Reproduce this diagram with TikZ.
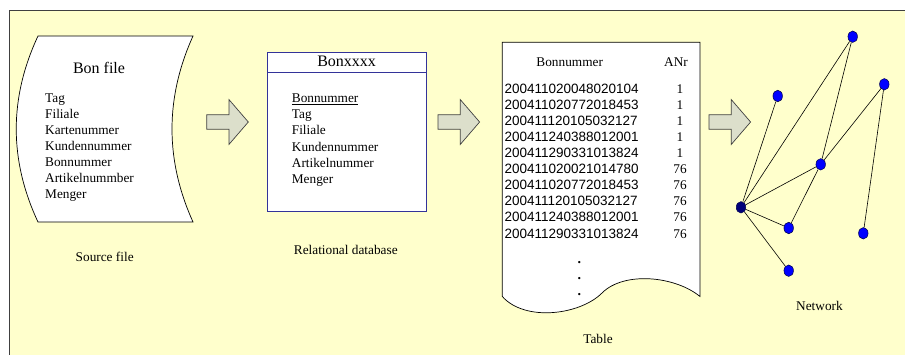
\documentclass[tikz,border=0pt]{standalone}
\usepackage{fontspec}
\setmainfont{Liberation Serif}
\newfontfamily\numfont{Liberation Sans}
\usetikzlibrary{shapes.geometric}
\definecolor{panelbg}{HTML}{FFFFCC}
\definecolor{framegray}{HTML}{404040}
\definecolor{arrowfill}{HTML}{DCDFCB}
\definecolor{dbblue}{HTML}{333399}
\definecolor{nodeblue}{HTML}{0000FF}
\definecolor{hubblue}{HTML}{00007A}
\begin{document}
\begin{tikzpicture}[x=1pt,y=-1pt,
  txt/.style={inner sep=0pt, anchor=base west, font=\fontsize{13.3}{16}\selectfont},
  ctxt/.style={inner sep=0pt, anchor=base, font=\fontsize{13.3}{16}\selectfont},
  titletxt/.style={inner sep=0pt, anchor=base, font=\fontsize{16}{19}\selectfont},
  numtxt/.style={inner sep=0pt, anchor=base west, font=\numfont\fontsize{13.5}{16}\selectfont},
  dottxt/.style={inner sep=0pt, anchor=base, font=\bfseries\fontsize{14}{16}\selectfont},
  blockarrow/.style={draw=framegray, fill=arrowfill, line width=0.7pt, line join=miter},
  vertex/.style={ellipse, draw=black!70!blue, fill=nodeblue, minimum width=9.5pt, minimum height=11.5pt, inner sep=0pt, line width=0.5pt},
  hub/.style={vertex, fill=hubblue},
  link/.style={draw=black, line width=0.6pt},
]
\useasboundingbox (0,0) rectangle (905,354);
\fill[white] (0,0) rectangle (905,354);
% yellow panel with its frame
\draw[fill=panelbg, draw=framegray, line width=1pt] (9,10) rectangle (920,370);

% ---- source file (punched-tape shape) ----
\draw[fill=white, line width=0.7pt] (38,36) -- (193,36)
  .. controls (165,98) and (165,160) .. (193,222) -- (38,222)
  .. controls (9,160) and (9,98) .. cycle;
\node[titletxt] (srctitle) at (99,73.5) {Bon file};
\foreach \t [count=\i from 0] in {Tag,Filiale,Kartenummer,Kundennummer,Bonnummer,Artikelnummber,Menger}
  \node[txt] (src\i) at (45,102.8+16*\i) {\t};
\node[ctxt] (srclabel) at (104.7,261) {Source file};

% ---- relational table ----
\draw[dbblue, line width=1pt, fill=white] (267.3,52.3) rectangle (426,211.7);
\draw[dbblue, line width=1pt] (267.3,72.3) -- (426,72.3);
\node[titletxt] (dbtitle) at (346.6,66.5) {Bonxxxx};
\node[txt] (db0) at (291.7,102.5) {\underline{Bonnummer}};
\foreach \t [count=\i from 1] in {Tag,Filiale,Kundennummer,Artikelnummer,Menger}
  \node[txt] (db\i) at (291.7,102.5+16.2*\i) {\t};
\node[ctxt] (dblabel) at (345.8,254.5) {Relational database};

% ---- printed table (document shape) ----
\draw[fill=white, line width=0.7pt] (502.3,296.5) -- (502.3,42.3) -- (700,42.3) -- (700,296.5)
  .. controls (675,276) and (624,271) .. (602,293)
  .. controls (580,315) and (525,322) .. cycle;
\node[ctxt] (colbon) at (569.7,66) {Bonnummer};
\node[ctxt] (colanr) at (676,66) {ANr};
\foreach \n/\a [count=\i from 0] in {
  200411020048020104/1, 200411020772018453/1, 200411120105032127/1,
  200411240388012001/1, 200411290331013824/1, 200411020021014780/76,
  200411020772018453/76, 200411120105032127/76, 200411240388012001/76,
  200411290331013824/76} {
  \node[numtxt] (bon\i) at (504.3,93.1+16.1*\i) {\n};
  \node[ctxt] (anr\i) at (680,93.1+16.1*\i) {\a};
}
\foreach \y [count=\i] in {263,279,295}
  \node[dottxt] (dot\i) at (579.3,\y) {.};
\node[ctxt] (tablabel) at (598,343.5) {Table};

% ---- block arrows between the stages ----
\foreach \x [count=\i] in {206.7,438,709} {
  \coordinate (arr\i) at (\x,122);
  \draw[blockarrow] (arr\i) ++(0,-7.2) -- ++(22.3,0) -- ++(0,-15.2)
    -- ++(19.3,22.4) -- ++(-19.3,22.4) -- ++(0,-15.2) -- ++(-22.3,0) -- cycle;
}

% ---- network ----
\node[vertex] (nA) at (852.7,36.7) {};
\node[vertex] (nB) at (884.3,84.3) {};
\node[vertex] (nC) at (777.7,96) {};
\node[vertex] (nD) at (820.7,164.3) {};
\node[hub]    (nE) at (741,207.3) {};
\node[vertex] (nF) at (788.7,228) {};
\node[vertex] (nG) at (863.3,233.3) {};
\node[vertex] (nH) at (788.7,270.7) {};
\draw[link] (nE) -- (nC);
\draw[link] (nE) -- (nA);
\draw[link] (nE) -- (nD);
\draw[link] (nE) -- (nF);
\draw[link] (nE) -- (nH);
\draw[link] (nA) -- (nD);
\draw[link] (nD) -- (nB);
\draw[link] (nD) -- (nF);
\draw[link] (nB) -- (nG);
\node[ctxt] (netlabel) at (819.5,310.5) {Network};
\end{tikzpicture}
\end{document}
